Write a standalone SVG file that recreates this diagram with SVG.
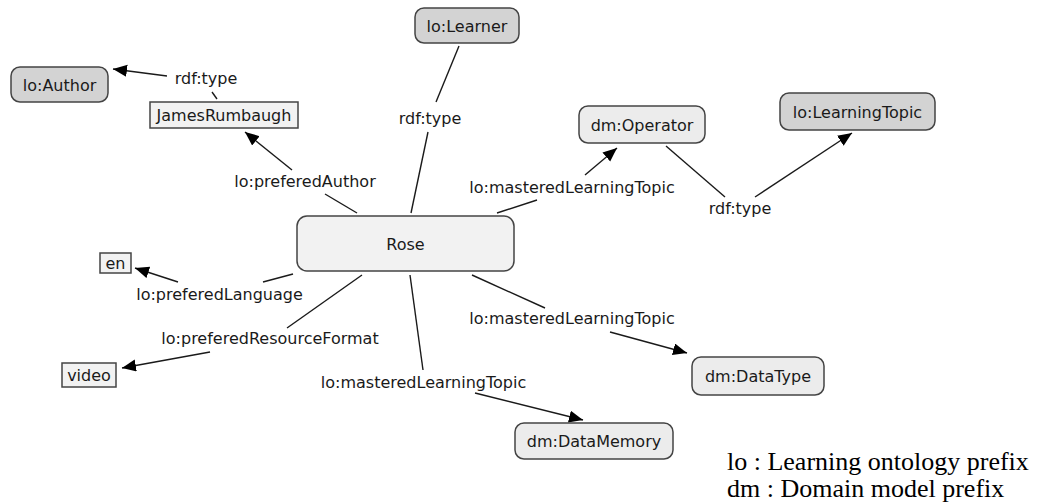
<svg xmlns="http://www.w3.org/2000/svg" width="1043" height="504" viewBox="0 0 1043 504">
<defs>
<marker id="arr" markerUnits="userSpaceOnUse" markerWidth="16" markerHeight="14" refX="14" refY="6" orient="auto">
<path d="M0,0 L14,6 L0,12 z" fill="#000"/>
</marker>
<style>
.cls rect{fill:#d3d3d3;stroke:#444;stroke-width:1.5}
.dm rect{fill:#ececec;stroke:#444;stroke-width:1.5}
.lit rect{fill:#f2f2f2;stroke:#444;stroke-width:1.5}
.ind rect{fill:#f2f2f2;stroke:#444;stroke-width:1.5}
text{font-family:"DejaVu Sans",Verdana,sans-serif;font-size:16px;fill:#1a1a1a;text-anchor:middle}
.edges line{stroke:#1a1a1a;stroke-width:1.4;fill:none}
.edges .a{marker-end:url(#arr)}
.legend{font-family:"Liberation Serif","Times New Roman",serif;font-size:26px;fill:#000;text-anchor:start}
</style>
</defs>
<rect width="1043" height="504" fill="#fff"/>
<g class="edges" id="connectors">
<line x1="357" y1="213" x2="325" y2="194"/>
<line class="a" x1="292" y1="170" x2="245" y2="132"/>
<line x1="217" y1="99" x2="212" y2="92"/>
<line class="a" x1="167" y1="76" x2="113" y2="69"/>
<line x1="411" y1="213" x2="428" y2="132"/>
<line x1="436" y1="102" x2="459" y2="46"/>
<line x1="497" y1="213" x2="537" y2="200"/>
<line class="a" x1="585" y1="175" x2="617" y2="148"/>
<line x1="666" y1="146" x2="725" y2="197"/>
<line class="a" x1="755" y1="197" x2="852" y2="133"/>
<line x1="293" y1="274" x2="263" y2="282"/>
<line class="a" x1="178" y1="282" x2="135" y2="268"/>
<line x1="362" y1="275" x2="287" y2="328"/>
<line class="a" x1="210" y1="352" x2="122" y2="368"/>
<line x1="472" y1="275" x2="545" y2="308"/>
<line class="a" x1="610" y1="332" x2="687" y2="353"/>
<line x1="410" y1="275" x2="423" y2="370"/>
<line class="a" x1="475" y1="393" x2="583" y2="420"/>
<text x="206" y="84">rdf:type</text>
<text x="430" y="124">rdf:type</text>
<text x="740" y="214">rdf:type</text>
<text x="305" y="187">lo:preferedAuthor</text>
<text x="572" y="193">lo:masteredLearningTopic</text>
<text x="219.5" y="300">lo:preferedLanguage</text>
<text x="270" y="344">lo:preferedResourceFormat</text>
<text x="572" y="324">lo:masteredLearningTopic</text>
<text x="423.5" y="388">lo:masteredLearningTopic</text>
</g>
<g id="n-author" class="cls"><rect x="11" y="67" width="97" height="35" rx="9"/><text x="59.5" y="90.5">lo:Author</text></g>
<g id="n-james" class="lit"><rect x="150" y="102" width="148" height="26"/><text x="224" y="121">JamesRumbaugh</text></g>
<g id="n-learner" class="cls"><rect x="415" y="8" width="104" height="35" rx="9"/><text x="467" y="31.5">lo:Learner</text></g>
<g id="n-operator" class="dm"><rect x="579" y="106" width="126" height="37" rx="9"/><text x="642" y="130.5">dm:Operator</text></g>
<g id="n-topic" class="cls"><rect x="780" y="93" width="155" height="37" rx="9"/><text x="857.5" y="117.5">lo:LearningTopic</text></g>
<g id="n-rose" class="ind"><rect x="297" y="216" width="217" height="55" rx="10"/><text x="405.5" y="249.5">Rose</text></g>
<g id="n-en" class="lit"><rect x="100" y="253" width="31" height="20"/><text x="115.5" y="269">en</text></g>
<g id="n-video" class="lit"><rect x="62" y="363" width="54" height="24"/><text x="89" y="381">video</text></g>
<g id="n-datatype" class="dm"><rect x="692" y="357" width="132" height="38" rx="9"/><text x="758" y="382">dm:DataType</text></g>
<g id="n-datamemory" class="dm"><rect x="515" y="423" width="158" height="36" rx="9"/><text x="594" y="447">dm:DataMemory</text></g>
<g id="legend">
<text class="legend" x="727" y="470">lo : Learning ontology prefix</text>
<text class="legend" x="727" y="497">dm : Domain model prefix</text>
</g>
</svg>
